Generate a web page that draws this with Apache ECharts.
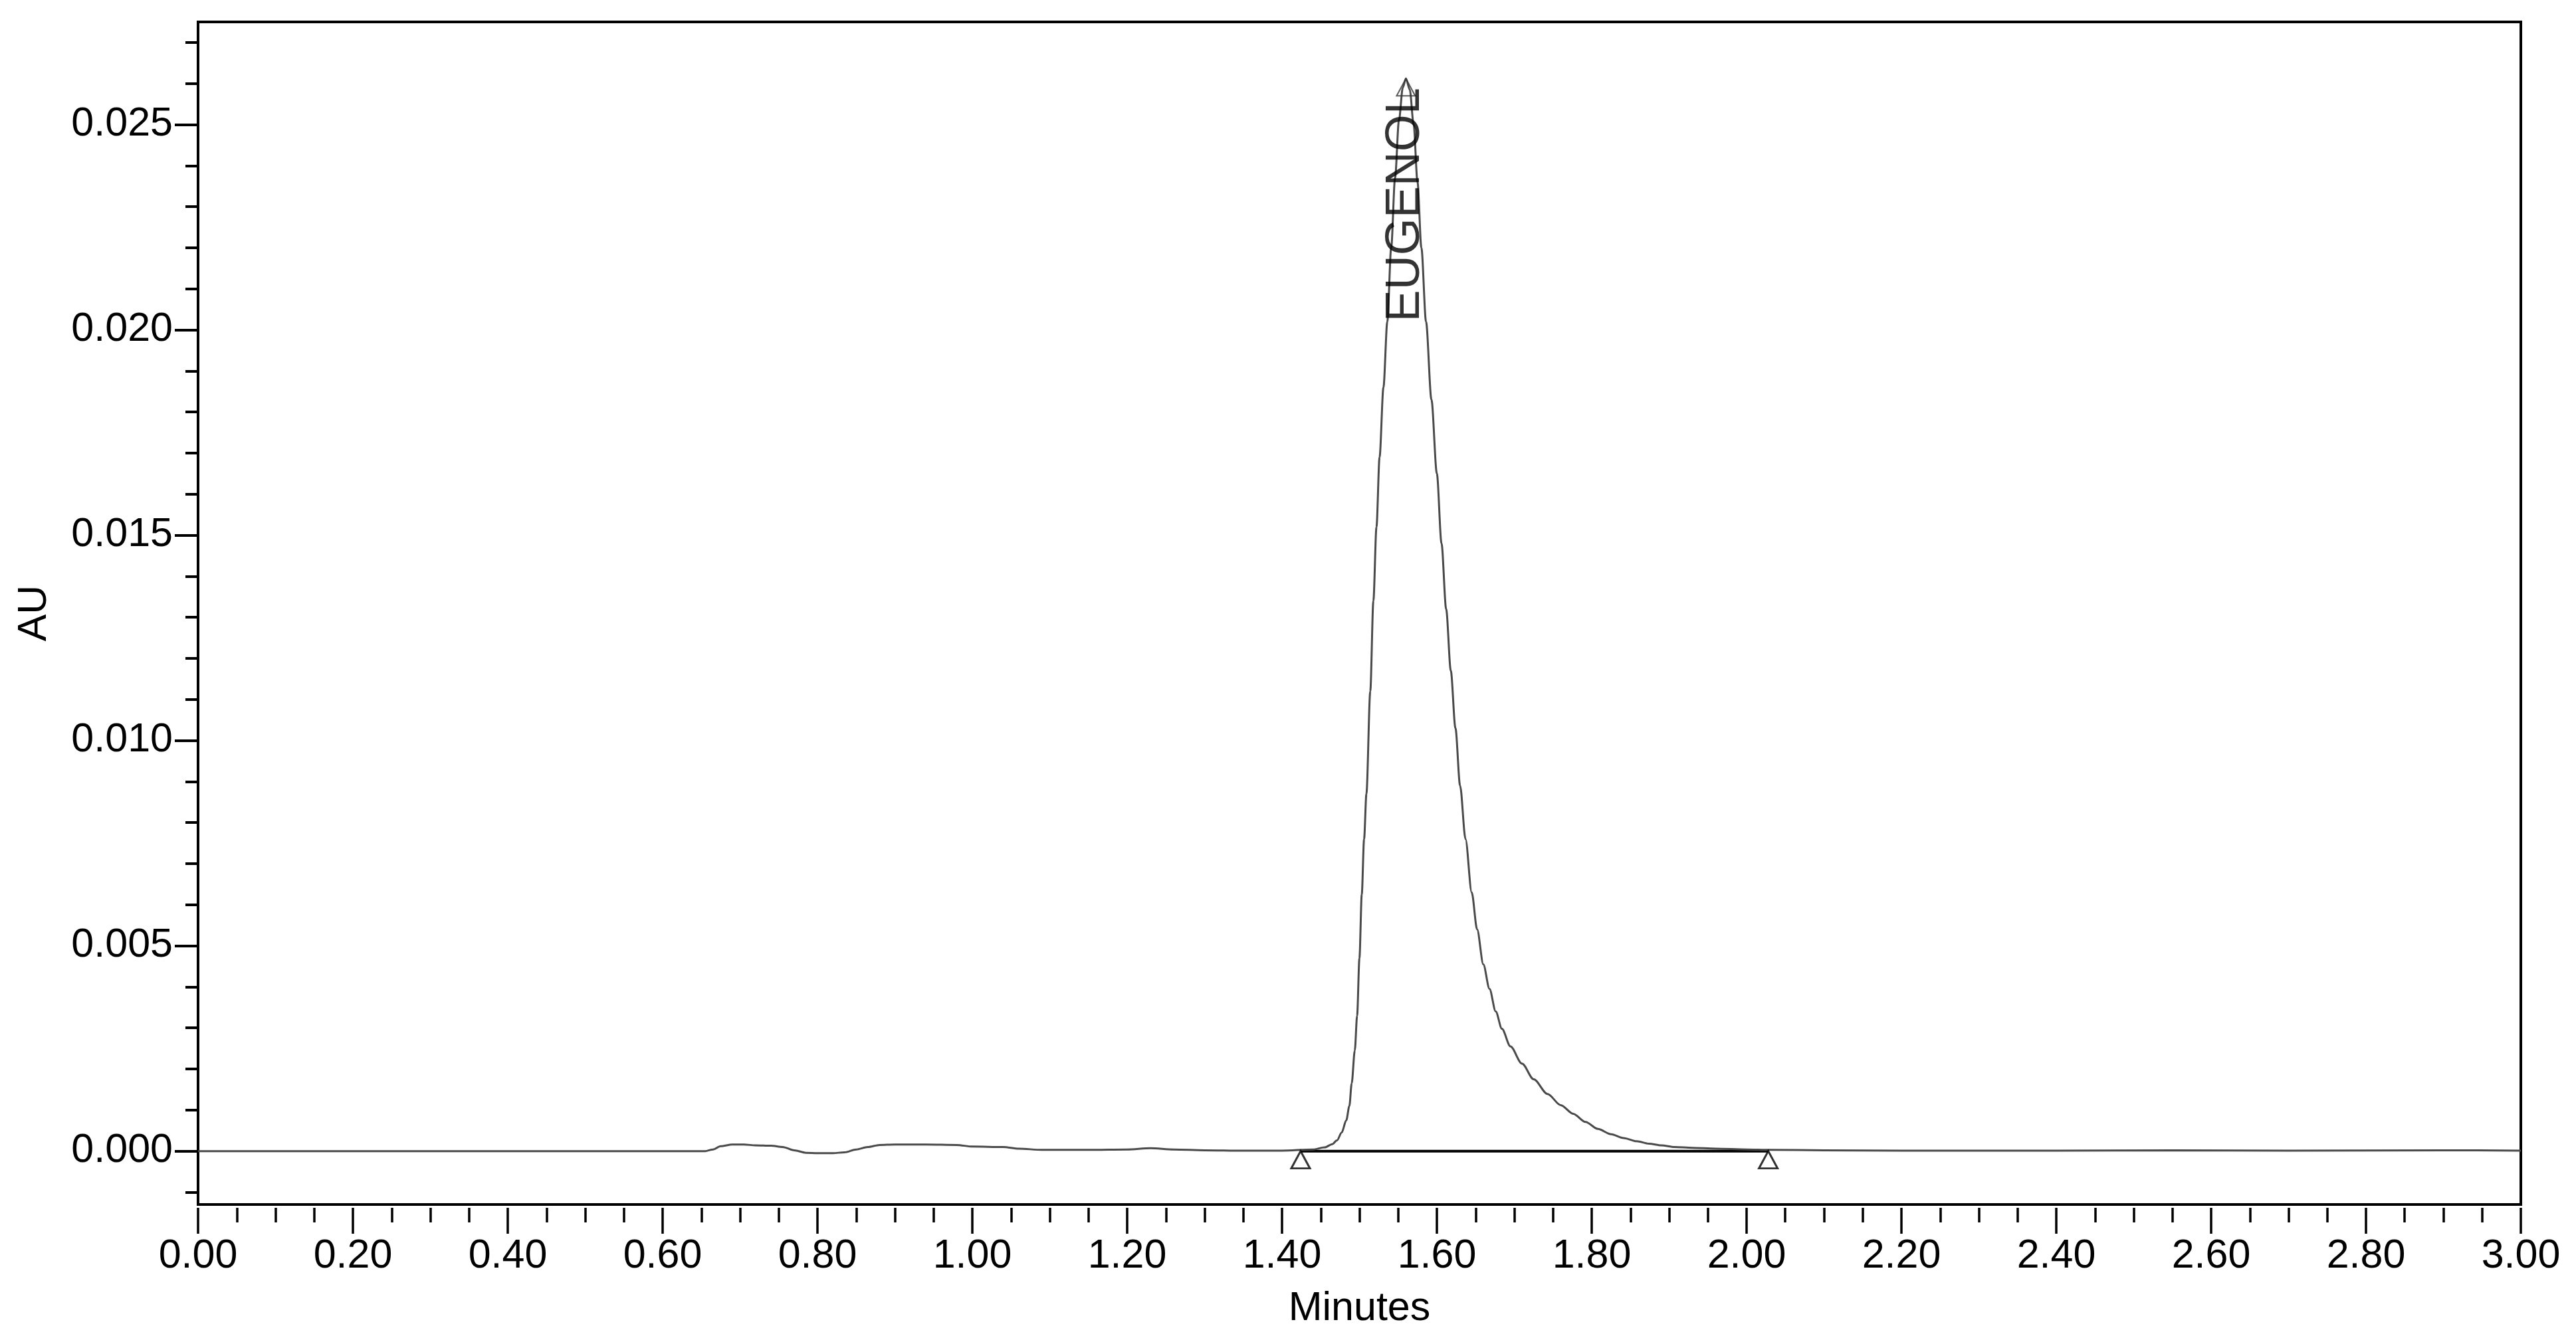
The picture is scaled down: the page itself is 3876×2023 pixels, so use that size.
<!DOCTYPE html>
<html>
<head>
<meta charset="utf-8">
<title>EUGENOL chromatogram</title>
<script src="https://cdn.jsdelivr.net/npm/echarts@6/dist/echarts.min.js"></script>
<style>
    html, body { margin: 0; padding: 0; background: #fff; }
    #chromatogram { width: 3876px; height: 2023px; }
</style>
</head>
<body>
<div id="chromatogram"></div>
<script>
/* ------------------------------------------------------------------------------
 *
 *  # Chromatogram - single peak (EUGENOL)
 *
 * ---------------------------------------------------------------------------- */

// Retention time, minutes
var retentionTimes = [
    0.000, 0.300, 0.600, 0.655, 0.665, 0.675, 0.690, 0.705, 0.720, 0.740,
    0.755, 0.770, 0.785, 0.800, 0.820, 0.835, 0.850, 0.865, 0.880, 0.900,
    0.940, 0.980, 1.000, 1.040, 1.060, 1.090, 1.150, 1.200, 1.230, 1.260,
    1.300, 1.350, 1.400, 1.440, 1.455, 1.465, 1.471, 1.477, 1.483, 1.487,
    1.490, 1.494, 1.497, 1.500, 1.503, 1.506, 1.509, 1.514, 1.518, 1.522,
    1.526, 1.531, 1.536, 1.541, 1.546, 1.551, 1.556, 1.560, 1.565, 1.570,
    1.575, 1.580, 1.586, 1.593, 1.600, 1.606, 1.612, 1.618, 1.624, 1.630,
    1.637, 1.645, 1.652, 1.660, 1.668, 1.676, 1.684, 1.695, 1.710, 1.725,
    1.743, 1.760, 1.776, 1.792, 1.808, 1.825, 1.841, 1.858, 1.874, 1.890,
    1.907, 1.930, 1.960, 2.000, 2.030, 2.100, 2.200, 2.400, 2.550, 2.700,
    2.900, 3.000
];

// Detector response, AU
var absorbance = [
    0.00000, 0.00000, 0.00000, 0.00000, 0.00004, 0.00012, 0.00016, 0.00016, 0.00014, 0.00013,
    0.00010, 0.00002, -0.00004, -0.00005, -0.00005, -0.00003, 0.00004, 0.00010, 0.00015, 0.00016,
    0.00016, 0.00015, 0.00011, 0.00010, 0.00006, 0.00003, 0.00003, 0.00004, 0.00007, 0.00004,
    0.00002, 0.00001, 0.00001, 0.00004, 0.00009, 0.00017, 0.00026, 0.00045, 0.00075, 0.00110,
    0.00165, 0.00245, 0.00330, 0.00470, 0.00625, 0.00760, 0.00870, 0.01120, 0.01340, 0.01520,
    0.01690, 0.01860, 0.02020, 0.02200, 0.02370, 0.02510, 0.02590, 0.02612, 0.02585, 0.02500,
    0.02360, 0.02200, 0.02020, 0.01830, 0.01650, 0.01480, 0.01320, 0.01170, 0.01030, 0.00890,
    0.00760, 0.00630, 0.00540, 0.00455, 0.00395, 0.00340, 0.00298, 0.00255, 0.00213, 0.00175,
    0.00139, 0.00112, 0.00091, 0.00071, 0.00054, 0.00041, 0.00032, 0.00024, 0.00018, 0.00014,
    0.00010, 0.00008, 0.00006, 0.00004, 0.00003, 0.00002, 0.00001, 0.00001, 0.00002, 0.00001,
    0.00002, 0.00001
];

// Integrated peaks
var peakNames = ['EUGENOL'];
var peakStarts = [1.424];
var peakEnds = [2.028];
var baselineLevel = 0;

// Axis ranges and ticks
var xRange = [0, 3];
var xTickStep = 0.2;
var yRange = [-0.0013, 0.0275];
var yMajorTicks = [0, 0.005, 0.010, 0.015, 0.020, 0.025];
var yMinorTicks = [-0.001, 0.001, 0.002, 0.003, 0.004, 0.006, 0.007, 0.008, 0.009,
    0.011, 0.012, 0.013, 0.014, 0.016, 0.017, 0.018, 0.019,
    0.021, 0.022, 0.023, 0.024, 0.026, 0.027];


// Setup module
// ------------------------------

var Chromatogram = function() {

    var fontFamily = '"Liberation Sans", Arial, sans-serif';

    var _chart = function() {
        if (typeof echarts == 'undefined') {
            console.warn('Warning - echarts.min.js is not loaded.');
            return;
        }

        var element = document.getElementById('chromatogram');
        if (!element) return;

        var chart = echarts.init(element, null, { renderer: 'canvas' });

        // Trace points
        var trace = retentionTimes.map(function(t, i) {
            return [t, absorbance[i]];
        });

        // Peak apex = highest point between start and end marks
        var baselines = [], edgeMarks = [], apexMarks = [];
        peakNames.forEach(function(name, p) {
            var best = null;
            trace.forEach(function(pt) {
                if (pt[0] >= peakStarts[p] && pt[0] <= peakEnds[p] && (!best || pt[1] > best[1])) best = pt;
            });
            baselines.push([peakStarts[p], baselineLevel], [peakEnds[p], baselineLevel], null);
            edgeMarks.push([peakStarts[p], baselineLevel], [peakEnds[p], baselineLevel]);
            apexMarks.push({ name: name, value: best });
        });

        var tickLabel = { color: '#000', fontSize: 61, fontFamily: fontFamily };

        chart.setOption({
            animation: false,
            backgroundColor: '#fff',
            textStyle: { fontFamily: fontFamily },

            grid: {
                left: 298,
                right: 83,
                top: 33,
                bottom: 210,
                containLabel: false,
                outerBoundsMode: 'none',
                show: true,
                borderColor: '#000',
                borderWidth: 4,
                backgroundColor: 'transparent'
            },

            // Horizontal axis
            xAxis: {
                type: 'value',
                min: xRange[0],
                max: xRange[1],
                interval: xTickStep,
                offset: 5,
                name: 'Minutes',
                nameLocation: 'middle',
                nameGap: 122,
                nameTextStyle: tickLabel,
                axisLine: { show: false, onZero: false },
                axisTick: { show: true, length: 39, lineStyle: { color: '#000', width: 3.5 } },
                minorTick: { show: true, splitNumber: 4, length: 22, lineStyle: { color: '#000', width: 3.5 } },
                axisLabel: Object.assign({ margin: 43, formatter: function(v) { return v.toFixed(2); } }, tickLabel),
                splitLine: { show: false },
                minorSplitLine: { show: false }
            },

            // Vertical axes: major ticks with labels, then minor ticks
            yAxis: [{
                type: 'value',
                position: 'left',
                min: yRange[0],
                max: yRange[1],
                name: 'AU',
                nameLocation: 'middle',
                nameGap: 215,
                nameTextStyle: tickLabel,
                axisLine: { show: false, onZero: false },
                axisTick: { show: true, length: 35, customValues: yMajorTicks, lineStyle: { color: '#000', width: 4 } },
                axisLabel: Object.assign({ margin: 38, customValues: yMajorTicks, formatter: function(v) { return v.toFixed(3); } }, tickLabel),
                splitLine: { show: false }
            }, {
                type: 'value',
                position: 'left',
                offset: 0,
                min: yRange[0],
                max: yRange[1],
                axisLine: { show: false, onZero: false },
                axisTick: { show: true, length: 19, customValues: yMinorTicks, lineStyle: { color: '#000', width: 4 } },
                axisLabel: { show: false },
                splitLine: { show: false }
            }],

            series: [
                {
                    name: 'Baseline',
                    type: 'line',
                    data: baselines,
                    showSymbol: false,
                    connectNulls: false,
                    lineStyle: { color: '#000', width: 4 },
                    z: 1,
                    silent: true
                },
                {
                    name: 'Signal',
                    type: 'line',
                    data: trace,
                    showSymbol: false,
                    smooth: 0.3,
                    smoothMonotone: 'x',
                    lineStyle: { color: '#4a4a4a', width: 3 },
                    z: 2,
                    silent: true
                },
                {
                    name: 'Integration marks',
                    type: 'scatter',
                    data: edgeMarks,
                    symbol: 'triangle',
                    symbolSize: [28, 26],
                    symbolOffset: [0, 13],
                    itemStyle: { color: 'rgba(255,255,255,0)', borderColor: '#000', borderWidth: 3 },
                    z: 3,
                    silent: true
                },
                {
                    name: 'Peak apex',
                    type: 'scatter',
                    data: apexMarks,
                    symbol: 'triangle',
                    symbolSize: [28, 26],
                    symbolOffset: [0, 13],
                    itemStyle: { color: 'rgba(255,255,255,0)', borderColor: '#333', borderWidth: 2 },
                    label: {
                        show: true,
                        formatter: '{b}',
                        position: 'inside',
                        rotate: 90,
                        align: 'right',
                        verticalAlign: 'middle',
                        padding: [0, 1, 0, 0],
                        color: '#000',
                        fontSize: 72,
                        fontFamily: fontFamily
                    },
                    z: 4,
                    silent: true
                }
            ]
        });

        window.addEventListener('resize', function() {
            chart.resize();
        });
    };

    return {
        init: function() {
            _chart();
        }
    };
}();


// Initialize module
// ------------------------------

document.addEventListener('DOMContentLoaded', function() {
    Chromatogram.init();
});
</script>
</body>
</html>
